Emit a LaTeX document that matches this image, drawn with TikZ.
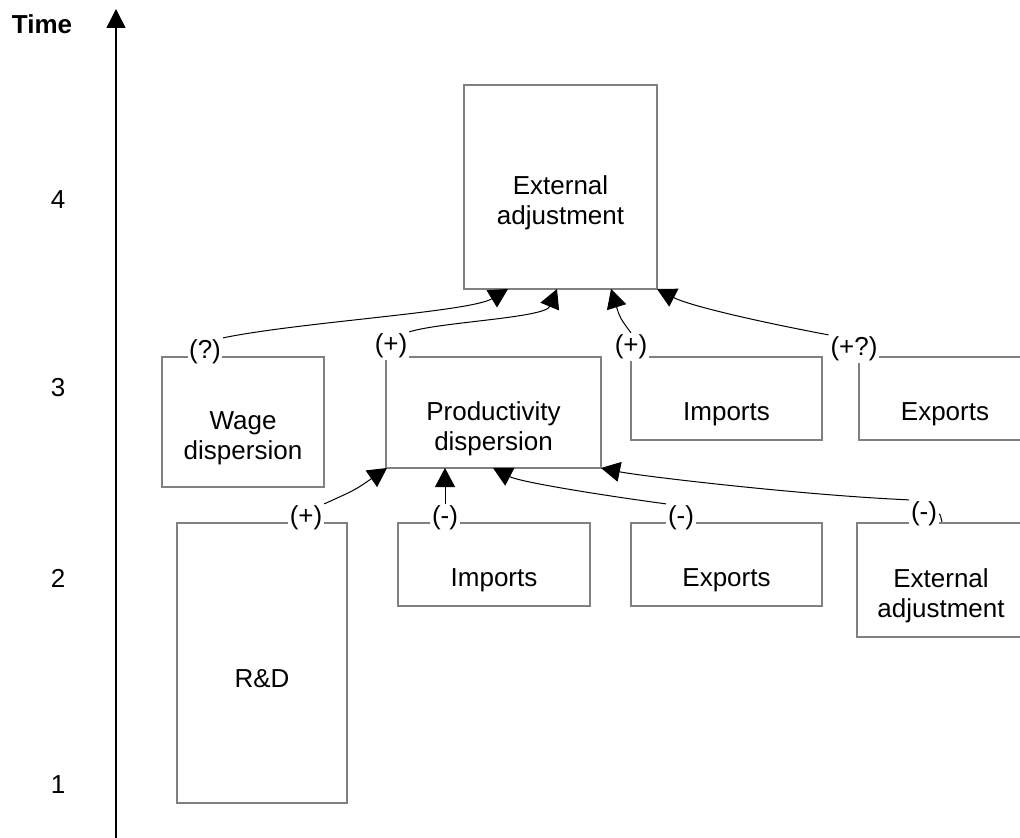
\documentclass[tikz,border=0pt]{standalone}
\usepackage{fontspec}
\setmainfont{Liberation Sans}
\usetikzlibrary{arrows.meta,fit}
\definecolor{boxgray}{RGB}{128,128,128}
\tikzset{
  box/.style={draw=boxgray,line width=1pt,inner sep=0pt},
  boxtext/.style={align=center,font=\fontsize{13}{15}\selectfont},
  sign/.style={fill=white,inner sep=0.8pt,font=\fontsize{13}{15}\selectfont},
  arr/.style={-{Triangle[length=9.5pt,width=10pt]},line width=0.5pt},
}
\begin{document}
\begin{tikzpicture}[x=0.5pt,y=-0.5pt]
\clip (0,0) rectangle (1020,838);
% time axis
\draw[-{Triangle[length=9.5pt,width=9.5pt]},line width=0.7pt](116,840)--(116,9);
\node[font=\fontsize{13}{15}\selectfont\bfseries](time) at (42,24){Time};
\foreach \t/\y in {4/200,3/388,2/578,1/785}
  \node[boxtext](lev\t) at (58,\y){\t};
% boxes
\node[box,fit={(464,85)(657,289)}](extA){};
\node[box,fit={(162,357)(324,487)}](wage){};
\node[box,fit={(386,357)(601,468)}](prod){};
\node[box,fit={(631,357)(822,440)}](impA){};
\node[box,fit={(859,357)(1031,440)}](expA){};
\node[box,fit={(177,523)(347,803)}](rd){};
\node[box,fit={(398,523)(590,606)}](impB){};
\node[box,fit={(631,523)(822,606)}](expB){};
\node[box,fit={(857,523)(1025,637)}](extB){};
\node[boxtext] at ([yshift=-8pt]extA.center){External\\adjustment};
\node[boxtext] at ([yshift=-8pt]wage.center){Wage\\dispersion};
\node[boxtext] at ([yshift=-8pt]prod.center){Productivity\\dispersion};
\node[boxtext] at ([yshift=-8pt]impA.center){Imports};
\node[boxtext] at ([yshift=-8pt]expA.center){Exports};
\node[boxtext] at ([yshift=-8pt]rd.center){R\&D};
\node[boxtext] at ([yshift=-8pt]impB.center){Imports};
\node[boxtext] at ([yshift=-8pt]expB.center){Exports};
\node[boxtext] at ([yshift=-8pt]extB.center){External\\adjustment};
% signs
\node[sign](sWage) at (205,352){(?)};
\node[sign](sProd) at (391,346){(+)};
\node[sign](sImpA) at (631,347){(+)};
\node[sign](sExpA) at (854,349){(+?)};
\node[sign](sRD) at (306,518){(+)};
\node[sign](sImpB) at (445,518){(-)};
\node[sign](sExpB) at (681,518){(-)};
\node[sign](sExtB) at (924,514){(-)};
% arrow ends
\coordinate(eA1) at (508,289);
\coordinate(eA2) at (557,289);
\coordinate(eA3) at (611,289);
\coordinate(eA4) at (657,289);
\coordinate(eP1) at (387,468);
\coordinate(eP2) at (445,468);
\coordinate(eP3) at (493,468);
\coordinate(eP4) at (601,468);
% effects
\draw[arr](sWage.north east) .. controls (300,322) and (470,312) .. (eA1);
\draw[arr](sProd.north east) .. controls (440,322) and (545,318) .. (eA2);
\draw[arr](sImpA.north) .. controls (620,318) .. (eA3);
\draw[arr](sExpA.north west) .. controls (760,322) and (690,306) .. (eA4);
\draw[arr](sRD.north east) .. controls (355,490) .. (eP1);
\draw[arr](sImpB.north)--(eP2);
\draw[arr](sExpB.north west) .. controls (600,495) and (520,482) .. (eP3);
\draw[arr](sExtB.north west) .. controls (800,495) and (640,476) .. (eP4);
\draw[line width=0.5pt](sExtB.east) .. controls (940,514) .. (942,522);
\end{tikzpicture}
\end{document}
